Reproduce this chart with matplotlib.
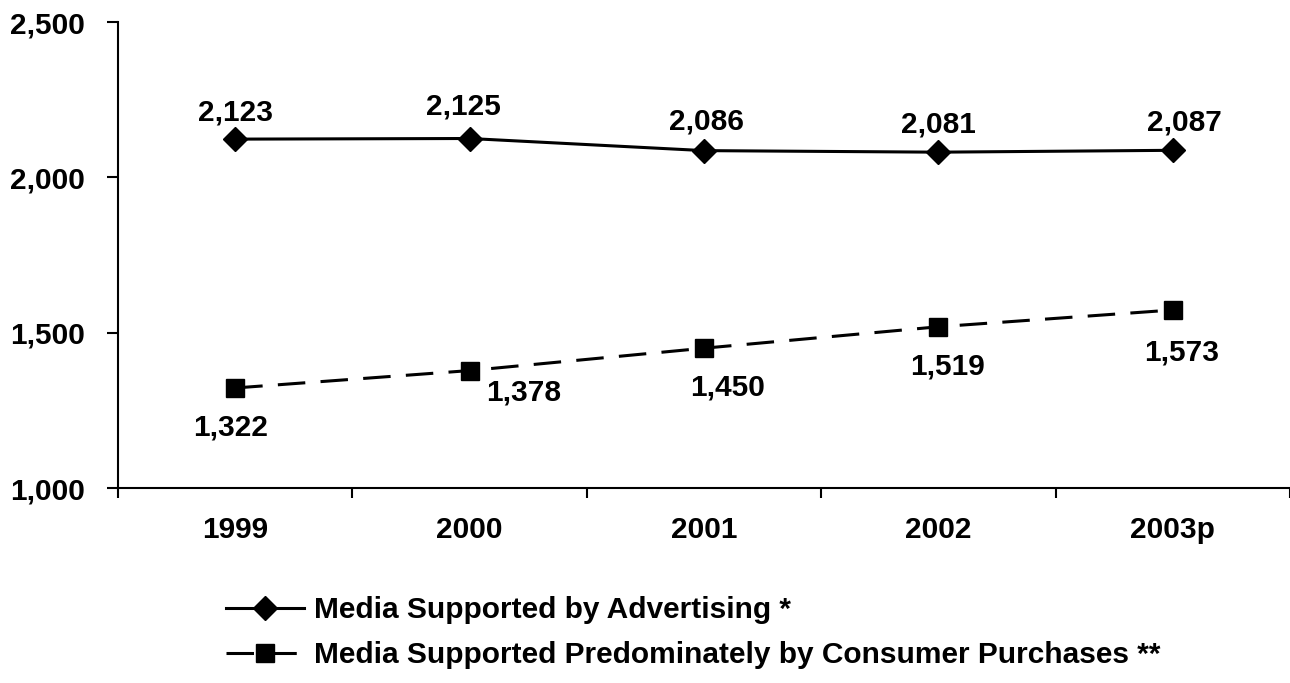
import matplotlib
matplotlib.use("Agg")
import matplotlib.pyplot as plt
from matplotlib.ticker import FuncFormatter, FixedLocator

plt.rcParams['font.family'] = ['Liberation Sans', 'DejaVu Sans']
plt.rcParams['font.weight'] = 'bold'

# Data
years = ["1999", "2000", "2001", "2002", "2003p"]
advertising = [2123, 2125, 2086, 2081, 2087]
consumer = [1322, 1378, 1450, 1519, 1573]
label_adv = "Media Supported by Advertising *"
label_con = "Media Supported Predominately by Consumer Purchases **"

# label offsets in pixels (dx, dy), manually placed like the original
adv_offsets = [(0, 27), (-6, 32), (2, 29), (0, 28), (12, 28)]
con_offsets = [(-5, -40), (54, -22), (24, -39), (9, -40), (9, -43)]

fig = plt.figure(figsize=(12.9, 6.83), dpi=100)
ax = fig.add_axes([118/1290, 1 - 488/683, 1 - 118/1290, (488 - 22)/683])

x = list(range(len(years)))
ax.plot(x, advertising, color="black", lw=2.2, marker="D", ms=12.5,
        label=label_adv)
ax.plot(x, consumer, color="black", lw=2.2, ls=(0, (9, 5)), marker="s",
        ms=12.5, markeredgecolor="black", markerfacecolor="black",
        label=label_con)

fs = 21.5
for i, v in enumerate(advertising):
    ax.annotate(f"{v:,}", (i, v), xytext=(adv_offsets[i][0]*0.72, adv_offsets[i][1]*0.72),
                textcoords="offset points", ha="center", va="center",
                fontsize=fs, fontweight="bold")
for i, v in enumerate(consumer):
    ax.annotate(f"{v:,}", (i, v), xytext=(con_offsets[i][0]*0.72, con_offsets[i][1]*0.72),
                textcoords="offset points", ha="center", va="center",
                fontsize=fs, fontweight="bold")

ax.set_xlim(-0.5, len(years) - 0.5)
ax.set_ylim(1000, 2500)
ax.set_yticks([1000, 1500, 2000, 2500])
ax.yaxis.set_major_formatter(FuncFormatter(lambda v, p: f"{int(v):,}"))

ax.xaxis.set_major_locator(FixedLocator([i - 0.5 for i in range(len(years) + 1)]))
ax.xaxis.set_major_formatter(FuncFormatter(lambda v, p: ""))
ax.xaxis.set_minor_locator(FixedLocator(x))
ax.set_xticklabels(years, minor=True)

ax.tick_params(axis="x", which="major", length=7, width=1.5, direction="out")
ax.tick_params(axis="x", which="minor", length=0, pad=20, labelsize=fs)
ax.tick_params(axis="y", length=8, width=1.5, direction="out", pad=16, labelsize=fs)

for s in ["top", "right"]:
    ax.spines[s].set_visible(False)
for s in ["left", "bottom"]:
    ax.spines[s].set_linewidth(1.5)

fig.legend(loc="upper left", bbox_to_anchor=(226/1290, 1 - 596/683),
           frameon=False, handlelength=2.6, handletextpad=0.35,
           labelspacing=0.58, borderpad=0, borderaxespad=0,
           prop={'weight': 'bold', 'size': fs})

fig.savefig("out.png", dpi=100)
